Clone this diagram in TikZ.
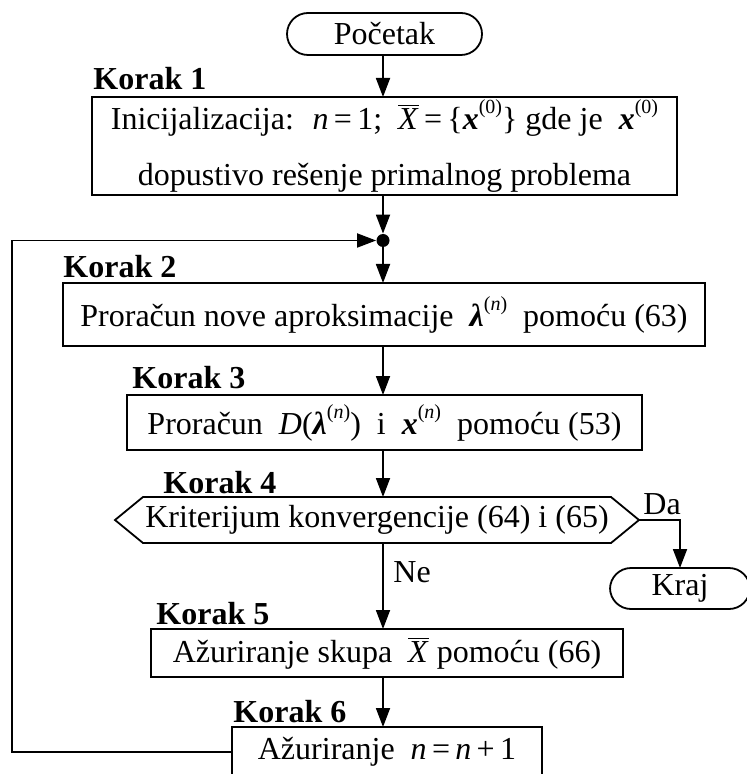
\documentclass[tikz,border=0pt]{standalone}
\usepackage{fontspec}
\setmainfont{Liberation Serif}
\usetikzlibrary{arrows.meta}
\newcommand{\bvx}{\textbf{\textit{x}}}
\newcommand{\blam}{\textbf{\textit{λ}}}
\newcommand{\upidx}[1]{\raisebox{0.5em}{\fontsize{10}{10}\selectfont #1}}
\newcommand{\Xbar}{$\overline{\hbox{\textit{X}}}$}
\tikzset{
  box/.style={draw, line width=0.9pt, inner sep=0pt, outer sep=0pt, font=\fontsize{16}{19}\selectfont},
  term/.style={box, rounded corners=10.5pt},
  lbl/.style={anchor=base west, inner sep=0pt, font=\fontsize{16}{19}\selectfont\bfseries},
  txt/.style={anchor=base west, inner sep=0pt, font=\fontsize{16}{19}\selectfont},
  flow/.style={line width=0.9pt, -{Triangle[width=7pt,length=9.5pt]}},
  plain/.style={line width=0.9pt}
}
\begin{document}
\begin{tikzpicture}[x=0.5pt,y=-0.5pt]
\useasboundingbox (0,0) rectangle (747,774);
\fill[white] (0,0) rectangle (747,774);
\clip (0,0) rectangle (747,774);

\node[term, minimum width=97.5pt, minimum height=21pt] (start) at (384.5,34) {Početak};
\node[lbl] (k1) at (93,90) {Korak 1};
\node[box, minimum width=292.5pt, minimum height=49pt, align=center] (b1) at (384.5,146)
  {Inicijalizacija: \ \textit{n}\,=\,1;\ \ \Xbar\,=\,\{\bvx\upidx{(0)}\}\ gde je \ \bvx\upidx{(0)}\\[9pt] dopustivo rešenje primalnog problema};
\node[circle, fill, inner sep=0pt, minimum size=6.5pt] (dot) at (383,240.5) {};
\node[lbl] (k2) at (63,278) {Korak 2};
\node[box, minimum width=321pt, minimum height=31.5pt] (b2) at (384,314.5)
  {Proračun nove aproksimacije \ \blam\upidx{(\textit{n})} \ pomoću (63)};
\node[lbl] (k3) at (132,388) {Korak 3};
\node[box, minimum width=257.5pt, minimum height=27.5pt] (b3) at (384.5,422.5)
  {Proračun \ \textit{D}(\blam\upidx{(\textit{n})}) \ i \ \bvx\upidx{(\textit{n})} \ pomoću (53)};
\node[lbl] (k4) at (163,493) {Korak 4};
\node[inner sep=0pt, outer sep=0pt, minimum width=234pt, minimum height=23pt, font=\fontsize{16}{19}\selectfont] (hex) at (377,520)
  {Kriterijum konvergencije (64) i (65)};
\coordinate (hexR) at (639,520);
\coordinate (hexL) at (115,520);
\draw[plain] (hex.north west) -- (hex.north east) -- (hexR) -- (hex.south east) -- (hex.south west) -- (hexL) -- cycle;
\node[txt] (da) at (643,514) {Da};
\node[term, minimum width=70pt, minimum height=20.5pt] (kraj) at (680,588.5) {Kraj};
\node[txt] (ne) at (393,582) {Ne};
\node[lbl] (k5) at (156,624) {Korak 5};
\node[box, minimum width=236pt, minimum height=24pt] (b5) at (387,653)
  {Ažuriranje skupa \ \Xbar \ pomoću (66)};
\node[lbl] (k6) at (233,722) {Korak 6};
\node[box, minimum width=155pt, minimum height=25pt] (b6) at (387,752)
  {Ažuriranje \ \textit{n}\,=\,\textit{n}\,+\,1};
\coordinate (lc1) at (12,752);
\coordinate (lc2) at (12,240.5);

\draw[flow] (start.south -| dot) -- (b1.north -| dot);
\draw[flow] (b1.south -| dot) -- (dot.north);
\draw[flow] (dot) -- (b2.north -| dot);
\draw[flow] (b2.south -| dot) -- (b3.north -| dot);
\draw[flow] (b3.south -| dot) -- (hex.north -| dot);
\draw[flow] (hex.south -| dot) -- (b5.north -| dot);
\draw[flow] (hexR) -- (hexR -| kraj) -- (kraj.north);
\draw[flow] (b5.south -| dot) -- (b6.north -| dot);
\draw[flow] (b6.west) -- (lc1) -- (lc2) -- (dot.west);
\end{tikzpicture}
\end{document}
